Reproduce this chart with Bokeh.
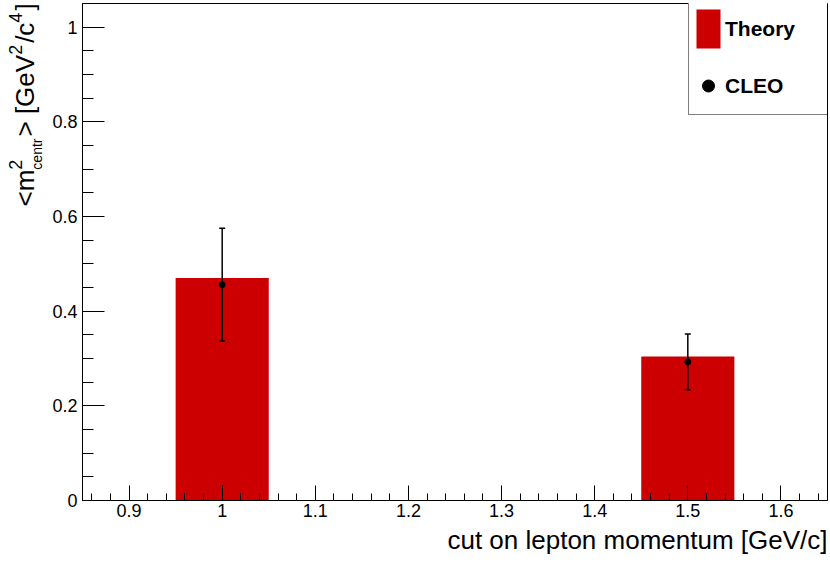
import numpy as np
from bokeh.plotting import figure
from bokeh.layouts import row
from bokeh.models import (ColumnDataSource, Whisker, TeeHead, FixedTicker,
                          CustomJSTickFormatter, Legend, LegendItem, Range1d, Title)
from bokeh.core.properties import value
from bokeh.embed import file_html
from bokeh.resources import INLINE

# ---- data ----
cut_momentum = [1.0, 1.5]          # GeV/c
theory_m2 = [0.470, 0.304]         # <m^2_centr> theory
cleo_m2 = [0.456, 0.293]           # CLEO measurement
cleo_err = [0.119, 0.059]          # CLEO uncertainty
bar_width = 0.1

x_ticks = [0.9, 1.0, 1.1, 1.2, 1.3, 1.4, 1.5, 1.6]
x_tick_labels = ["0.9", "1", "1.1", "1.2", "1.3", "1.4", "1.5", "1.6"]
y_ticks = [0.0, 0.2, 0.4, 0.6, 0.8, 1.0]
y_tick_labels = ["0", "0.2", "0.4", "0.6", "0.8", "1"]

x_title = "cut on lepton momentum [GeV/c]"
# y title "<m^2_centr> [GeV^2/c^4]" split into pieces (text, role)
y_title_parts = [("<m", "main"), ("2", "sup"), ("centr", "sub"), ("> [GeV", "main"),
                 ("2", "sup"), ("/c", "main"), ("4", "sup"), ("]", "main")]

FONT = "Liberation Sans"
X0, X1, Y0, Y1 = 0.85, 1.65, 0.0, 1.05
H = 560
BOTTOM = 63

# ---------------- main plot ----------------
p = figure(width=782, height=H,
           x_range=Range1d(X0, X1), y_range=Range1d(Y0, Y1),
           output_backend="svg", toolbar_location=None,
           min_border_left=34, min_border_right=3,
           min_border_top=0, min_border_bottom=BOTTOM)
p.xgrid.visible = False
p.ygrid.visible = False
p.outline_line_color = "black"
p.outline_line_width = 1
p.background_fill_color = "white"
p.border_fill_color = "white"

fmt_code = """
const i = tvals.findIndex(t => Math.abs(t - tick) < 1e-6);
return i >= 0 ? tlabels[i] : '';
"""
p.xaxis.ticker = FixedTicker(ticks=x_ticks,
                             minor_ticks=[round(v, 2) for v in np.arange(0.86, 1.65, 0.02)])
p.xaxis.formatter = CustomJSTickFormatter(args=dict(tvals=x_ticks, tlabels=x_tick_labels), code=fmt_code)
p.yaxis.ticker = FixedTicker(ticks=y_ticks,
                             minor_ticks=[round(v, 2) for v in np.arange(0.0, 1.051, 0.05)])
p.yaxis.formatter = CustomJSTickFormatter(args=dict(tvals=y_ticks, tlabels=y_tick_labels), code=fmt_code)

for ax in (p.xaxis[0], p.yaxis[0]):
    ax.axis_line_color = "black"
    ax.axis_line_width = 1
    ax.major_tick_line_color = "black"
    ax.minor_tick_line_color = "black"
    ax.major_tick_out = 0
    ax.minor_tick_out = 0
    ax.major_label_text_font = FONT
    ax.major_label_text_font_size = "18px"
    ax.major_label_text_color = "black"
p.xaxis.major_tick_in = 15
p.xaxis.minor_tick_in = 7
p.yaxis.major_tick_in = 22
p.yaxis.minor_tick_in = 11
p.xaxis.major_label_standoff = 3
p.yaxis.major_label_standoff = 5

# x-axis title, right-aligned under the axis
p.add_layout(Title(text=x_title, align="right", text_font=FONT, text_font_size="26px",
                   text_font_style="normal", text_color="black", standoff=6), "below")

# ---- theory bars ----
bars = p.vbar(x=cut_momentum, top=theory_m2, width=bar_width, bottom=0,
              fill_color="#cc0000", line_color=None)

# ---- CLEO points with error bars ----
src = ColumnDataSource(dict(
    x=cut_momentum, y=cleo_m2,
    upper=[v + e for v, e in zip(cleo_m2, cleo_err)],
    lower=[v - e for v, e in zip(cleo_m2, cleo_err)],
))
wh = Whisker(base="x", upper="upper", lower="lower", source=src, dimension="height",
             line_color="black", line_width=1.5, level="annotation",
             upper_head=TeeHead(size=6, line_color="black", line_width=1.5),
             lower_head=TeeHead(size=6, line_color="black", line_width=1.5))
p.add_layout(wh)
pts = p.scatter(x="x", y="y", source=src, size=6, color="black")

# tiny marker shown inside the Theory legend box
tiny = p.scatter(x=[], y=[], size=2, color="black")

legend = Legend(items=[LegendItem(label="Theory", renderers=[bars, tiny]),
                       LegendItem(label="CLEO", renderers=[pts])],
                location=(606, 385), orientation="vertical",
                glyph_width=30, glyph_height=49, label_standoff=2, label_width=104,
                padding=4, spacing=8, margin=0,
                label_text_font=FONT, label_text_font_style="bold",
                label_text_font_size="21px", label_text_color="black",
                border_line_color="black", border_line_width=1,
                background_fill_color="white", background_fill_alpha=1.0)
p.add_layout(legend, "center")

# ---------------- y-axis title strip (pixel coordinates) ----------------
# Its frame spans the same rows as the main frame; data y = px above the strip's bottom.
TW = 48
t = figure(width=TW, height=H, x_range=Range1d(0, TW), y_range=Range1d(BOTTOM, H),
           output_backend="svg", toolbar_location=None,
           x_axis_type=None, y_axis_type=None,
           min_border_left=0, min_border_right=0, min_border_top=0,
           min_border_bottom=BOTTOM)
t.xgrid.visible = False
t.ygrid.visible = False
t.outline_line_color = None
t.background_fill_color = "white"
t.border_fill_color = "white"

# advance widths (em) in Liberation Sans for laying the pieces one after another
ADV = {"<": .584, "m": .833, ">": .584, " ": .278, "[": .278, "G": .778, "e": .556,
       "V": .667, "/": .278, "c": .5, "]": .278, "2": .556, "4": .556, "n": .556,
       "t": .278, "r": .333}
SIZE = {"main": 26, "sup": 18, "sub": 14}
BASE = {"main": 34, "sup": 21, "sub": 41}   # baseline x (px) in the strip
SCRIPT_GAP = 2.0

xs, ys, txt, fs = [], [], [], []

def put(text, role, start):
    w = sum(ADV[ch] for ch in text) * SIZE[role]
    xs.append(BASE[role] - 0.3465 * SIZE[role])   # centre of the text box
    ys.append(start + w / 2.0)
    txt.append(text)
    fs.append(f"{SIZE[role]}px")
    return w

pos = H - 203.0          # start of "<" (px above strip bottom)
script_start = None
script_max = 0.0
for text, role in y_title_parts:
    if role == "main":
        if script_start is not None:
            pos = script_start + script_max + SCRIPT_GAP
            script_start, script_max = None, 0.0
        pos += put(text, role, pos)
    else:
        if script_start is None:
            script_start = pos
        script_max = max(script_max, put(text, role, script_start))

tsrc = ColumnDataSource(dict(x=xs, y=ys, text=txt, size=fs))
t.text(x="x", y="y", text="text", source=tsrc, angle=np.pi / 2,
       text_align="center", text_baseline="middle",
       text_font=value(FONT), text_font_size="size", text_color="black")

layout = row(t, p, margin=(3, 0, 0, 0))
open("out.html", "w").write(file_html(layout, INLINE))
